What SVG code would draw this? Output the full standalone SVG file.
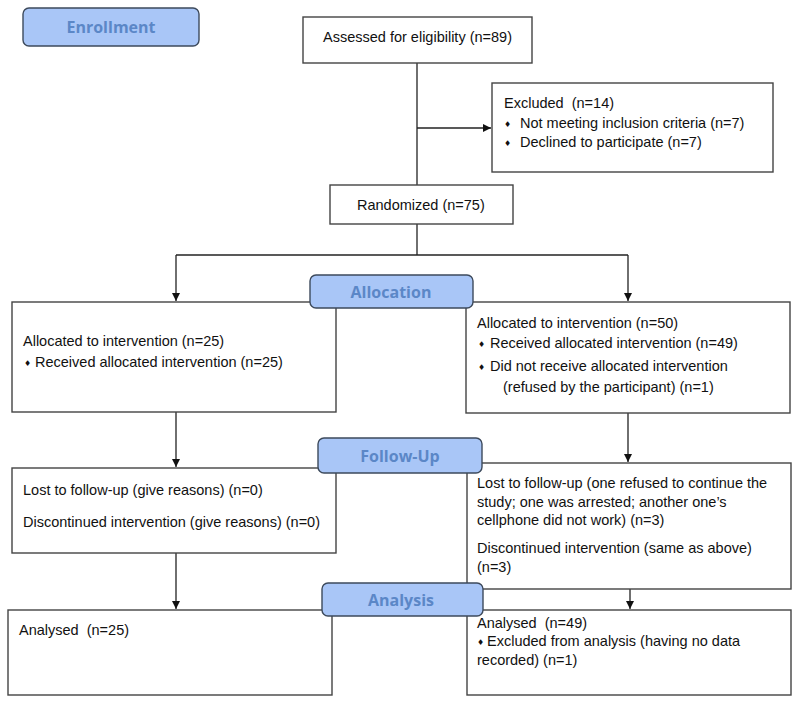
<svg xmlns="http://www.w3.org/2000/svg" width="800" height="706" viewBox="0 0 800 706">
<defs>
<marker id="ah" markerWidth="10" markerHeight="10" refX="9" refY="5" orient="auto" markerUnits="userSpaceOnUse">
<path d="M1,1 L9,5 L1,9 Z" fill="#111"/>
</marker>
<style>
.box{fill:#fff;stroke:#444;stroke-width:1.4}
.lab{fill:#a9c6f7;stroke:#3d4a5c;stroke-width:1.4}
.t{font-family:"Liberation Sans",Arial,sans-serif;font-size:14.5px;fill:#111}
.b{font-family:"DejaVu Sans",sans-serif;font-size:8px;fill:#111}
.lt{font-family:"Open Sans","Noto Sans",sans-serif;font-size:16px;font-weight:bold;fill:#5b87c7;text-anchor:middle}
.c{fill:none;stroke:#222;stroke-width:1.3}
</style>
</defs>
<rect width="800" height="706" fill="#fff"/>

<g id="connectors">
<line class="c" x1="417" y1="63" x2="417" y2="255"/>
<line class="c" x1="417" y1="128" x2="491" y2="128" marker-end="url(#ah)"/>
<line class="c" x1="176" y1="255" x2="628" y2="255"/>
<line class="c" x1="176" y1="255" x2="176" y2="301" marker-end="url(#ah)"/>
<line class="c" x1="628" y1="255" x2="628" y2="301" marker-end="url(#ah)"/>
<line class="c" x1="176" y1="412" x2="176" y2="467" marker-end="url(#ah)"/>
<line class="c" x1="628" y1="413" x2="628" y2="462" marker-end="url(#ah)"/>
<line class="c" x1="176" y1="553" x2="176" y2="609" marker-end="url(#ah)"/>
<line class="c" x1="630" y1="589" x2="630" y2="609" marker-end="url(#ah)"/>
</g>

<g id="enrollment">
<rect class="lab" x="23" y="8" width="176" height="38" rx="6"/>
<text class="lt" x="111" y="33">Enrollment</text>
</g>

<g id="assessed">
<rect class="box" x="303" y="17" width="229" height="46"/>
<text class="t" x="323" y="42">Assessed for eligibility (n=89)</text>
</g>

<g id="excluded">
<rect class="box" x="492" y="83" width="281" height="89"/>
<text class="t" x="504" y="108" xml:space="preserve">Excluded  (n=14)</text>
<text class="b" x="504" y="127">♦</text>
<text class="t" x="520" y="128">Not meeting inclusion criteria (n=7)</text>
<text class="b" x="504" y="146">♦</text>
<text class="t" x="520" y="147">Declined to participate (n=7)</text>
</g>

<g id="randomized">
<rect class="box" x="330" y="185" width="183" height="39"/>
<text class="t" x="357" y="210">Randomized (n=75)</text>
</g>

<g id="alloc-left">
<rect class="box" x="12" y="302" width="324" height="110"/>
<text class="t" x="23" y="346">Allocated to intervention (n=25)</text>
<text class="b" x="24" y="366">♦</text>
<text class="t" x="35" y="367">Received allocated intervention (n=25)</text>
</g>

<g id="alloc-right">
<rect class="box" x="466" y="302" width="324" height="111"/>
<text class="t" x="477" y="328">Allocated to intervention (n=50)</text>
<text class="b" x="478" y="347">♦</text>
<text class="t" x="490" y="348">Received allocated intervention (n=49)</text>
<text class="b" x="478" y="370">♦</text>
<text class="t" x="490" y="371">Did not receive allocated intervention</text>
<text class="t" x="503" y="392">(refused by the participant) (n=1)</text>
</g>

<g id="allocation">
<rect class="lab" x="310" y="275" width="163" height="33" rx="6"/>
<text class="lt" x="391" y="298">Allocation</text>
</g>

<g id="followup-left">
<rect class="box" x="12" y="468" width="324" height="85"/>
<text class="t" x="23" y="495">Lost to follow-up (give reasons) (n=0)</text>
<text class="t" x="23" y="527">Discontinued intervention (give reasons) (n=0)</text>
</g>

<g id="followup-right">
<rect class="box" x="467" y="463" width="324" height="126"/>
<text class="t" x="477" y="488">Lost to follow-up (one refused to continue the</text>
<text class="t" x="477" y="507">study; one was arrested; another one’s</text>
<text class="t" x="477" y="525">cellphone did not work) (n=3)</text>
<text class="t" x="477" y="553">Discontinued intervention (same as above)</text>
<text class="t" x="477" y="572">(n=3)</text>
</g>

<g id="followup">
<rect class="lab" x="318" y="438" width="164" height="35" rx="6"/>
<text class="lt" x="400" y="462">Follow-Up</text>
</g>

<g id="analysed-left">
<rect class="box" x="8" y="610" width="324" height="85"/>
<text class="t" x="19" y="635" xml:space="preserve">Analysed  (n=25)</text>
</g>

<g id="analysed-right">
<rect class="box" x="467" y="610" width="324" height="85"/>
<text class="t" x="477" y="628" xml:space="preserve">Analysed  (n=49)</text>
<text class="b" x="477" y="645">♦</text>
<text class="t" x="487" y="646">Excluded from analysis (having no data</text>
<text class="t" x="477" y="665">recorded) (n=1)</text>
</g>

<g id="analysis">
<rect class="lab" x="322" y="583" width="161" height="33" rx="6"/>
<text class="lt" x="401" y="606">Analysis</text>
</g>
</svg>
